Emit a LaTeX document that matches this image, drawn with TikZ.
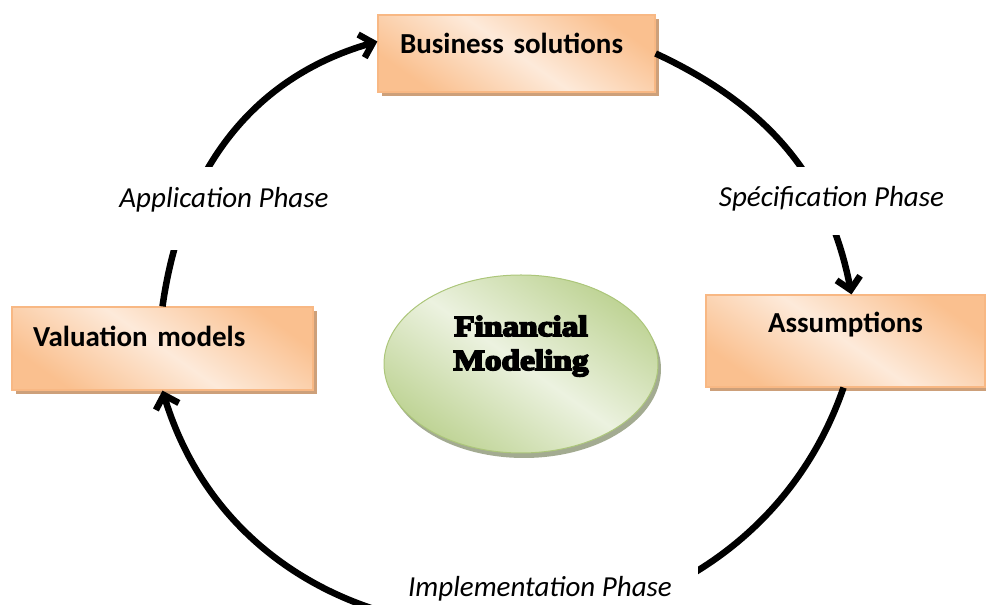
\documentclass[tikz,border=0pt]{standalone}
\usepackage{fontspec}
\setmainfont{Carlito}
\newfontfamily\posterfont[FakeBold=6,FakeStretch=1.15]{Liberation Serif}
\usetikzlibrary{arrows.meta,shapes.geometric,shadows}

\definecolor{peach}{RGB}{250,192,143}
\definecolor{cream}{RGB}{253,234,218}
\definecolor{boxline}{RGB}{248,184,132}
\definecolor{boxshadow}{RGB}{205,160,122}
\definecolor{ellgreen}{RGB}{190,211,148}
\definecolor{elllight}{RGB}{236,242,224}
\definecolor{ellline}{RGB}{172,198,122}
\definecolor{ellshadow}{RGB}{140,150,118}

\tikzset{
  phasebox/.style={rectangle, draw=boxline, line width=1.2pt,
    top color=peach, bottom color=peach, middle color=cream, shading angle=-35,
    drop shadow={shadow xshift=4pt, shadow yshift=-4pt, fill=boxshadow, opacity=1},
    inner ysep=0pt, font=\fontsize{29}{35}\selectfont\bfseries},
  phase/.style={fill=white, inner ysep=0pt, anchor=base,
    font=\fontsize{29}{35}\selectfont\itshape},
  phasearrow/.style={line width=6.5pt, -{Straight Barb[length=12pt,width=24pt]}},
}

\begin{document}
\begin{tikzpicture}[x=1pt,y=1pt]
  \useasboundingbox (0,0) rectangle (986,605);
  \clip (0,0) rectangle (986,605);

  % steps
  \node[phasebox, text width=233pt, inner xsep=22pt, text height=39pt, text depth=38pt, align=left]
    (bs) at (516.5,551.5) {Business solutions};
  \node[phasebox, text width=259pt, inner xsep=21pt, text height=40pt, text depth=43pt, align=left]
    (val) at (162.5,256.5) {Valuation models};
  \node[phasebox, text width=259pt, inner xsep=10pt, text height=38pt, text depth=54pt, align=center]
    (as) at (845.5,264) {Assumptions};

  % centre
  \node[ellipse, draw=ellline, line width=1pt,
    top color=ellgreen, bottom color=ellgreen, middle color=elllight, shading angle=-35,
    drop shadow={shadow xshift=3pt, shadow yshift=-5pt, fill=ellshadow, opacity=.8},
    minimum width=274pt, minimum height=178pt, inner sep=0pt,
    text height=66pt, text depth=54pt, align=center,
    font=\posterfont\bfseries\fontsize{29}{34}\selectfont]
    (fm) at (521,241) {Financial\\Modeling};

  % cycle
  \draw[phasearrow] (val.north) to[out=82,in=196] ([yshift=12pt]bs.west);
  \draw[phasearrow] (bs.east) to[out=-25,in=101] ([xshift=6pt]as.north);
  \draw[phasearrow] ([xshift=-2pt]as.south) to[out=-109,in=-73,looseness=1.25] (val.south);

  % phases
  \node[phase, text height=41pt, text depth=42pt, inner xsep=6pt] (app) at (224,397) {Application Phase};
  \node[phase, text height=40pt, text depth=28pt, inner xsep=6pt] (spec) at (831.5,398) {Spécification Phase};
  \node[phase, text height=34pt, text depth=12pt, inner xsep=26pt] (impl) at (540,8) {Implementation Phase};
\end{tikzpicture}
\end{document}
